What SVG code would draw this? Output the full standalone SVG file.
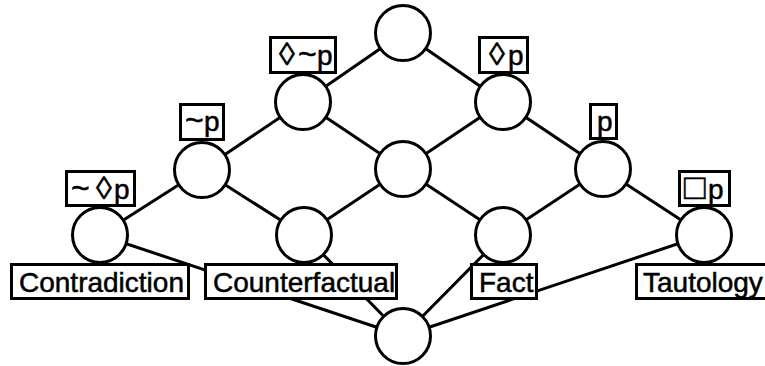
<svg xmlns="http://www.w3.org/2000/svg" width="765" height="366" viewBox="0 0 765 366">
<style>
.e{stroke:#000;stroke-width:3;fill:none}
.n{fill:#fff;stroke:#000;stroke-width:3}
.b{fill:#fff;stroke:#000;stroke-width:3}
.t{font-family:"Liberation Sans",Arial,sans-serif;font-size:28px;fill:#000;stroke:#000;stroke-width:0.5}
.s{font-family:"Liberation Sans",Arial,sans-serif;font-size:28px;fill:#000;stroke:#000;stroke-width:0.5}
.ti{font-size:32px}
.lz{font-size:32px}
.sq{font-size:36px}
</style>
<rect width="765" height="366" fill="#fff"/>
<g id="connectors">
<line class="e" x1="403" y1="33" x2="303" y2="102"/>
<line class="e" x1="403" y1="33" x2="503" y2="102"/>
<line class="e" x1="303" y1="102" x2="202" y2="170"/>
<line class="e" x1="303" y1="102" x2="403" y2="169"/>
<line class="e" x1="503" y1="102" x2="403" y2="169"/>
<line class="e" x1="503" y1="102" x2="603" y2="169"/>
<line class="e" x1="202" y1="170" x2="100" y2="235"/>
<line class="e" x1="202" y1="170" x2="304" y2="235"/>
<line class="e" x1="403" y1="169" x2="304" y2="235"/>
<line class="e" x1="403" y1="169" x2="503" y2="235"/>
<line class="e" x1="603" y1="169" x2="503" y2="235"/>
<line class="e" x1="603" y1="169" x2="704" y2="235"/>
<line class="e" x1="100" y1="235" x2="403" y2="336"/>
<line class="e" x1="304" y1="235" x2="403" y2="336"/>
<line class="e" x1="503" y1="235" x2="403" y2="336"/>
<line class="e" x1="704" y1="235" x2="403" y2="336"/>
</g>
<g id="top"><circle class="n" cx="403" cy="33" r="27.5"/></g>
<g id="poss-not-p"><circle class="n" cx="303" cy="102" r="27.5"/><rect class="b" x="270.5" y="37.5" width="65" height="35"/><text class="s" y="65"><tspan class="lz" x="279">◊</tspan><tspan class="ti" x="298">~</tspan><tspan x="317">p</tspan></text></g>
<g id="poss-p"><circle class="n" cx="503" cy="102" r="27.5"/><rect class="b" x="479.5" y="37.5" width="48" height="35"/><text class="s" y="65"><tspan class="lz" x="489">◊</tspan><tspan x="508">p</tspan></text></g>
<g id="not-p"><circle class="n" cx="202" cy="170" r="27.5"/><rect class="b" x="180.5" y="104.5" width="43" height="35"/><text class="s" y="131"><tspan class="ti" x="185">~</tspan><tspan x="204">p</tspan></text></g>
<g id="middle"><circle class="n" cx="403" cy="169" r="27.5"/></g>
<g id="p"><circle class="n" cx="603" cy="169" r="27.5"/><rect class="b" x="590.5" y="104.5" width="26" height="34"/><text class="s" x="597" y="131">p</text></g>
<g id="contradiction"><circle class="n" cx="100" cy="235" r="27.5"/><rect class="b" x="66.5" y="171.5" width="68" height="34"/><text class="s" y="199"><tspan class="ti" x="71">~</tspan><tspan class="lz" x="96">◊</tspan><tspan x="114">p</tspan></text><rect class="b" x="11.5" y="264.5" width="177" height="34"/><text class="t" x="19" y="292">Contradiction</text></g>
<g id="counterfactual"><circle class="n" cx="304" cy="235" r="27.5"/><rect class="b" x="205.5" y="264.5" width="191" height="34"/><text class="t" x="213" y="292">Counterfactual</text></g>
<g id="fact"><circle class="n" cx="503" cy="235" r="27.5"/><rect class="b" x="471.5" y="264.5" width="65" height="34"/><text class="t" x="479" y="292">Fact</text></g>
<g id="tautology"><circle class="n" cx="704" cy="235" r="27.5"/><rect class="b" x="679.5" y="171.5" width="50" height="34"/><text class="s" y="199"><tspan class="sq" x="684">□</tspan><tspan x="708">p</tspan></text><rect class="b" x="636.5" y="264.5" width="140" height="34"/><text class="t" x="643" y="292">Tautology</text></g>
<g id="bottom"><circle class="n" cx="403" cy="336" r="27.5"/></g>
</svg>
